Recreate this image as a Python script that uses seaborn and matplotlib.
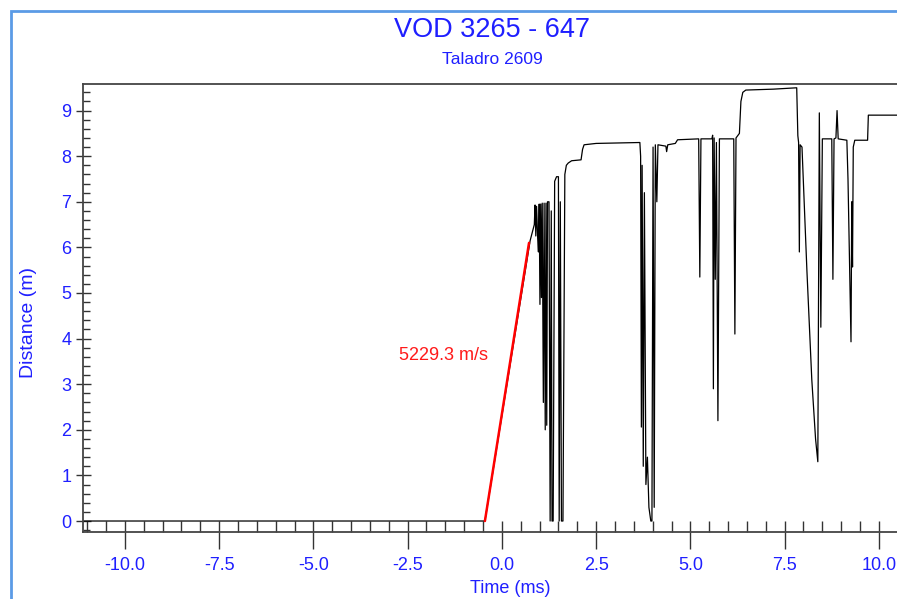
import matplotlib
matplotlib.use("Agg")
import matplotlib.pyplot as plt
from matplotlib.patches import Rectangle
from matplotlib.ticker import MultipleLocator, FormatStrFormatter
import seaborn as sns
import pandas as pd

# ---- data ----
trace_t = [-11.11, -0.45, 0.75, 0.86, 0.88, 0.90, 0.92, 0.95, 0.97, 0.99, 1.01, 1.03, 1.05,
           1.07, 1.10, 1.12, 1.15, 1.17, 1.19, 1.21, 1.25, 1.28, 1.31, 1.33, 1.36, 1.40,
           1.45, 1.50, 1.52, 1.55, 1.58, 1.62, 1.67, 1.71, 1.76, 1.85, 2.10, 2.14, 2.18,
           2.50, 3.66, 3.68, 3.70, 3.72, 3.75, 3.78, 3.82, 3.86, 3.90, 3.95, 3.98, 4.01,
           4.04, 4.07, 4.11, 4.14, 4.35, 4.37, 4.40, 4.60, 4.66, 5.22, 5.25, 5.28, 5.57,
           5.59, 5.61, 5.63, 5.66, 5.69, 5.73, 5.77, 6.15, 6.18, 6.21, 6.30, 6.34, 6.39,
           6.47, 7.20, 7.82, 7.85, 7.87, 7.89, 7.91, 7.96, 8.09, 8.22, 8.32, 8.38, 8.42,
           8.46, 8.50, 8.75, 8.78, 8.81, 8.86, 8.89, 8.92, 9.15, 9.18, 9.26, 9.28, 9.30,
           9.32, 9.36, 9.70, 9.72, 10.48]
trace_d = [0.0, 0.0, 6.15, 6.5, 6.93, 6.25, 6.9, 6.2, 5.9, 6.95, 4.75, 6.95, 4.9,
           6.97, 2.6, 6.97, 2.0, 6.97, 2.1, 7.0, 7.0, 0.0, 6.8, 0.0, 0.0, 7.45,
           7.55, 7.55, 0.0, 7.0, 0.0, 0.0, 7.6, 7.8, 7.85, 7.9, 7.92, 8.15, 8.25,
           8.28, 8.3, 8.0, 2.06, 7.8, 1.2, 7.2, 0.8, 1.4, 0.3, 0.0, 0.0, 8.2,
           0.3, 8.25, 7.0, 8.25, 8.22, 8.1, 8.25, 8.28, 8.36, 8.38, 5.35, 8.38, 8.38,
           8.46, 2.9, 8.4, 5.3, 8.3, 2.2, 8.38, 8.38, 4.1, 8.4, 8.5, 9.2, 9.4,
           9.45, 9.47, 9.5, 8.45, 8.3, 5.9, 8.25, 8.2, 5.5, 3.1, 1.8, 1.3, 8.95,
           4.25, 8.38, 8.38, 5.3, 8.38, 8.4, 9.0, 8.38, 8.35, 7.5, 3.93, 7.0, 5.57,
           8.2, 8.35, 8.35, 8.9, 8.9]

fit_t = [-0.45, 0.72]
fit_d = [0.0, 6.1]
velocity_label = "5229.3 m/s"

x_ticks = [-10.0, -7.5, -5.0, -2.5, 0.0, 2.5, 5.0, 7.5, 10.0]
y_ticks = [0, 1, 2, 3, 4, 5, 6, 7, 8, 9]

trace = pd.DataFrame({"t": trace_t, "d": trace_d})
fit = pd.DataFrame({"t": fit_t, "d": fit_d})

# ---- style ----
sns.set_style("ticks")
plt.rcParams["font.family"] = ["Liberation Sans", "DejaVu Sans"]

BLUE = "#1f1fff"
W, H = 897, 599
fig = plt.figure(figsize=(W / 100, H / 100), dpi=100)

ax = fig.add_axes([83 / W, 1 - 532 / H, 1 - 83 / W, (532 - 84) / H])

sns.lineplot(data=trace, x="t", y="d", ax=ax, color="black", linewidth=0.9,
             sort=False, estimator=None)
sns.lineplot(data=fit, x="t", y="d", ax=ax, color="#ff0000", linewidth=1.8,
             sort=False, estimator=None)

ax.text(-1.56, 3.64, velocity_label, color="#ff1a1a", fontsize=13,
        ha="center", va="center")

ax.set_xlim(-11.11, 10.48)
ax.set_ylim(-0.241, 9.583)

ax.set_xticks(x_ticks)
ax.set_yticks(y_ticks)
ax.xaxis.set_major_formatter(FormatStrFormatter("%.1f"))
ax.xaxis.set_minor_locator(MultipleLocator(0.5))
ax.yaxis.set_minor_locator(MultipleLocator(0.2))
ax.xaxis.remove_overlapping_locs = False

ax.tick_params(which="both", bottom=True, left=True, top=False, right=False)
ax.tick_params(axis="x", which="major", direction="out", length=12.2, width=1.0,
               color="#333333", labelsize=13, labelcolor=BLUE, pad=6)
ax.tick_params(axis="x", which="minor", direction="in", length=7.9, width=1.0,
               color="#333333")
ax.tick_params(axis="y", which="major", direction="inout", length=10.8, width=1.0,
               color="#333333", labelsize=13, labelcolor=BLUE, pad=3)
ax.tick_params(axis="y", which="minor", direction="in", length=5.0, width=1.0,
               color="#333333")

for side in ["left", "top", "bottom"]:
    ax.spines[side].set_visible(True)
    ax.spines[side].set_color("#444444")
    ax.spines[side].set_linewidth(1.3)
ax.spines["right"].set_visible(False)

ax.set_xlabel("Time (ms)", color=BLUE, fontsize=13)
ax.set_ylabel("Distance (m)", color=BLUE, fontsize=14)
ax.xaxis.set_label_coords((510 - 83) / (W - 83), (532 - 580) / 448)
ax.yaxis.set_label_coords((37 - 83) / (W - 83), (532 - 323) / 448)

fig.text(492 / W, 1 - 30 / H, "VOD 3265 - 647", color=BLUE, fontsize=19.5,
         ha="center", va="center")
fig.text(492 / W, 1 - 60 / H, "Taladro 2609", color=BLUE, fontsize=12.5,
         ha="center", va="center")

# light blue frame around the chart area
fig.patches.append(Rectangle((11 / W, -0.05), 1.2, 1.05 - 11 / H,
                             transform=fig.transFigure, fill=False,
                             edgecolor="#5b9be6", linewidth=2.0))

fig.savefig("out.png", dpi=100)
